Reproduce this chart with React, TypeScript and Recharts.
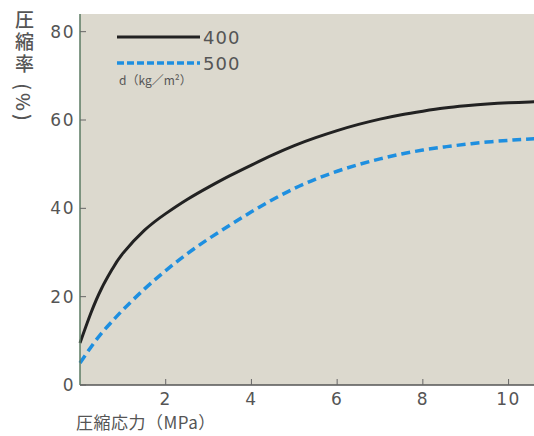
import React from "react"
import { LineChart, Line, XAxis, YAxis, CartesianGrid } from "recharts"

const stress = [0, 0.25, 0.5, 0.75, 1, 1.5, 2, 2.5, 3, 3.5, 4, 4.5, 5, 5.5, 6, 6.5, 7, 7.5, 8, 8.5, 9, 9.5, 10, 10.5, 11.2]
const rate400 = [9.5, 16.2, 21.8, 26.2, 29.8, 35, 38.8, 42, 44.8, 47.4, 49.8, 52.1, 54.2, 56, 57.6, 59, 60.2, 61.2, 62, 62.7, 63.2, 63.6, 63.9, 64.1, 64.3]
const rate500 = [5, 8.5, 11.7, 14.4, 17, 21.7, 25.9, 29.7, 33.1, 36.2, 39.2, 42, 44.5, 46.6, 48.4, 49.9, 51.2, 52.3, 53.2, 53.9, 54.5, 55, 55.4, 55.7, 56]
const xTicks = [2, 4, 6, 8, 10]
const yTicks = [0, 20, 40, 60, 80]

const data = stress.map((s, i) => ({ s, d400: rate400[i], d500: rate500[i] }))

const numFont = "'DejaVu Sans', sans-serif"
const jpFont = "'Noto Sans CJK JP', sans-serif"
const textColor = "#555"

// ticks point inward, so draw them ourselves
function XTick(props: any) {
  const { x, y, payload } = props
  return (
    <g>
      <line x1={x} x2={x} y1={y - 8} y2={y - 14} stroke="#666" strokeWidth={1} />
      <text x={x} y={y} dy={12} textAnchor="middle" fontSize={17} letterSpacing={1.5} fill={textColor} fontFamily={numFont}>
        {payload.value}
      </text>
    </g>
  )
}

function YTick(props: any) {
  const { x, y, payload } = props
  return (
    <g>
      <line x1={x + 10} x2={x + 16} y1={y} y2={y} stroke="#666" strokeWidth={1} />
      <text x={x + 5} y={y} dy={6} textAnchor="end" fontSize={17} letterSpacing={1.5} fill={textColor} fontFamily={numFont}>
        {payload.value}
      </text>
    </g>
  )
}

export default function App() {
  return (
    <div style={{ position: "absolute", left: 0, top: 0, width: 534, height: 436, overflow: "hidden", background: "#fff" }}>
      <LineChart width={560} height={436} data={data} margin={{ top: 14, right: 0, bottom: 0, left: 0 }}>
        <CartesianGrid fill="#dcd9ce" horizontal={false} vertical={false} />
        <XAxis
          dataKey="s"
          type="number"
          domain={[0, 11.2]}
          ticks={xTicks}
          height={51}
          tickSize={0}
          tickMargin={8}
          tick={<XTick />}
          axisLine={{ stroke: "#555", strokeWidth: 1.5 }}
        />
        <YAxis
          type="number"
          domain={[0, 84]}
          ticks={yTicks}
          width={80}
          tickSize={0}
          tickMargin={10}
          tick={<YTick />}
          axisLine={{ stroke: "#5b7a62", strokeWidth: 1.5 }}
        />
        <Line type="natural" dataKey="d400" stroke="#222" strokeWidth={3} dot={false} isAnimationActive={false} />
        <Line type="natural" dataKey="d500" stroke="#1e8fe0" strokeWidth={3.5} strokeDasharray="9 5" dot={false} isAnimationActive={false} />
      </LineChart>

      <div style={{ position: "absolute", left: 12, top: 10, width: 24, writingMode: "vertical-rl", fontFamily: jpFont, fontSize: 19, fontWeight: 500, color: textColor, lineHeight: "24px", letterSpacing: 3 }}>
        圧縮率 (%)
      </div>

      <div style={{ position: "absolute", left: 76, top: 412, fontFamily: jpFont, fontSize: 17, lineHeight: "20px", color: textColor, whiteSpace: "nowrap", letterSpacing: 0.5 }}>
        圧縮応力（MPa）
      </div>

      <svg style={{ position: "absolute", left: 0, top: 0 }} width={534} height={120}>
        <line x1={117} x2={200} y1={37} y2={37} stroke="#222" strokeWidth={3} />
        <text x={203} y={44} fontSize={18} letterSpacing={1} fill={textColor} fontFamily={numFont}>400</text>
        <line x1={117} x2={200} y1={63} y2={63} stroke="#1e8fe0" strokeWidth={3.5} strokeDasharray="7 3" />
        <text x={203} y={70} fontSize={18} letterSpacing={1} fill={textColor} fontFamily={numFont}>500</text>
        <text x={119} y={85} fontSize={12} fill={textColor} fontFamily={jpFont}>d（kg／m²）</text>
      </svg>
    </div>
  )
}
